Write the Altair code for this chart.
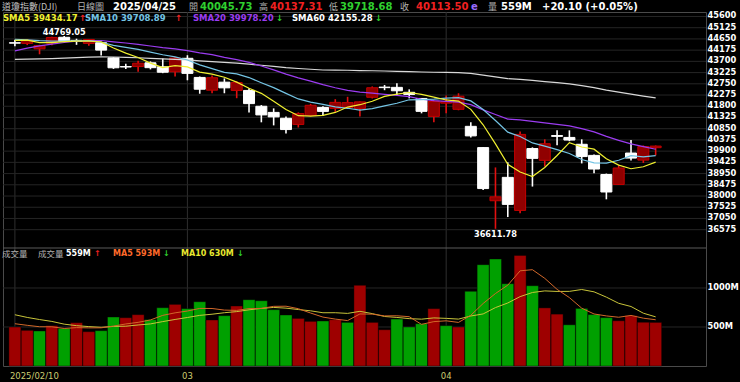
import altair as alt
import pandas as pd

# ---------------- data ----------------
# closes before the visible window (needed for the moving averages)
pre_closes = [43910.98, 43958.19, 43750.86, 43444.99, 43389.60, 43268.94, 43408.47, 43870.35,
              44296.51, 44736.57, 44860.31, 44722.06, 44910.65,
              44782.00, 44705.53, 45014.04, 44765.71, 44642.52, 44401.93, 44247.83, 44148.56,
              43914.12, 43828.06, 43717.48, 43449.90, 42326.87, 42342.24, 42840.26, 42906.95,
              43297.03, 43325.80, 42992.21, 42573.73, 42544.22,
              42392.27, 42732.13, 42706.56, 42528.36, 42635.20, 41938.45, 42297.12, 42518.28,
              43221.55, 43153.13, 43487.83, 44025.81, 44156.73, 44565.07, 44424.25, 44713.58,
              44850.35, 44713.52, 44882.13, 44544.66,
              44421.91, 44556.04, 44873.28, 44747.63, 44303.40]
pre_volumes = [800, 720, 760, 830, 750, 560, 540, 520, 590]

opens = [44490, 44460, 44230, 44470, 44720, 44590, 44460, 44490, 43850, 43480,
         43480, 43640, 43470, 43260, 43830, 43020, 42480, 42820, 42470, 42470,
         41800, 41540, 41290, 41030, 41410, 41750, 41710, 41750, 41710, 42180,
         42610, 42600, 42390, 42130, 41370, 41930, 41670, 40950, 40050, 37800,
         38790, 37390, 40010, 39510, 40560, 40480, 40190, 39720, 38910, 38490,
         39820, 39520, 40045.73]
highs = [44620, 44630, 44400, 44740, 44769.05, 44660, 44650, 44520, 43880, 43600,
         43730, 43700, 43820, 43880, 43960, 43060, 43100, 42980, 42860, 42560,
         41850, 41710, 41370, 41540, 41900, 41800, 42100, 42200, 42000, 42640,
         42700, 42770, 42515, 42150, 42050, 42260, 42350, 41120, 40060, 39210,
         39426, 40730, 40060, 40400, 40780, 40780, 40400, 39760, 38950, 39300,
         40370, 40140, 40137.31]
lows = [44340, 44390, 44000, 44380, 44500, 44400, 44360, 43950, 43380, 43380,
        43260, 43360, 43200, 43060, 42900, 42330, 42350, 42350, 42140, 41540,
        41120, 40990, 40650, 40900, 41370, 41400, 41560, 41700, 41370, 42130,
        42480, 42260, 42134, 41500, 41120, 41500, 41630, 40480, 38250, 36611.78,
        37110, 37275, 38400, 39250, 40150, 40320, 39380, 38960, 37860, 38470,
        39500, 39400, 39718.68]
closes = [44470.41, 44593.65, 44368.56, 44711.43, 44546.08, 44556.34, 44627.59, 44176.65,
          43428.02, 43461.21, 43621.16, 43433.12, 43239.50, 43840.91,
          43191.24, 42520.99, 43006.59, 42579.08, 42801.72, 41911.71, 41433.48, 41350.93,
          40813.57, 41488.19, 41841.63, 41581.31, 41964.63, 41953.32, 41985.35, 42583.32,
          42587.50, 42454.79, 42299.70, 41583.90, 42001.76,
          41989.96, 42225.32, 40545.93, 38314.86, 37965.60, 37645.59, 40608.45, 39593.66,
          40212.71, 40524.79, 40368.96, 39669.39, 39142.23, 38170.41, 39186.98, 39606.57,
          40093.40, 40113.50]
volumes = [500, 457, 449, 517, 482, 555, 440, 453, 628, 619,
           658, 594, 747, 790, 735, 824, 590, 645, 769, 850,
           837, 722, 654, 610, 572, 577, 594, 559, 1034, 559,
           465, 602, 500, 542, 735, 517, 500, 957, 1299, 1372,
           1055, 1418, 1029, 745, 665, 528, 738, 659, 620, 580,
           645, 561, 559]

date_ticks = [0, 14, 35]
date_labels = ["2025/02/10", "03", "04"]
price_ticks = [45600, 45125, 44650, 44175, 43700, 43225, 42750, 42275, 41800, 41325,
               40850, 40375, 39900, 39425, 38950, 38475, 38000, 37525, 37050, 36575]
volume_ticks = [500, 1000]

header1 = [("道瓊指數(DJI)", "name"), ("日線圖", "cjk"), ("2025/04/25", "white"),
           ("開", "cjk"), ("40045.73", "green"), ("高", "cjk"), ("40137.31", "red"),
           ("低", "cjk"), ("39718.68", "green"), ("收", "cjk"), ("40113.50", "red"),
           ("e", "purple"), ("量", "cjk"), ("559M", "white"), ("+20.10 (+0.05%)", "white")]
header2 = [("SMA5 39434.17", "sma5"), ("SMA10 39708.89", "sma10"),
           ("SMA20 39978.20", "sma20"), ("SMA60 42155.28", "white")]
header2_arrows = [("↑", "red"), ("↑", "red"), ("↓", "green"), ("↓", "green")]
header3 = [("成交量", "cjk"), ("成交量", "cjk"), ("559M", "white"), ("↑", "red"),
           ("MA5 593M", "ma5"), ("↓", "green"), ("MA10 630M", "ma10"), ("↓", "green")]

# ---------------- layout / style ----------------
W, H = 703, 354
X_DOM = [-0.56, 55.68]
P_DOM = [30804, 45790]
V_DOM = [0, 4538]
h1_x = [-1, 74, 110, 186, 197, 256, 267, 326, 337, 397, 413, 468, 485, 498, 539]
h2_x = [0, 82, 190, 289]
h2_arrow_x = [76, 172, 273, 372]
h3_x = [-1, 35, 63, 91, 110, 160, 178, 234]

COL = {"cjk": "#b0b0b0", "name": "#c0c0c0", "white": "#ffffff", "green": "#2fd02f",
       "red": "#f02020", "purple": "#9a6cff", "sma5": "#f0f030", "sma10": "#74c4e4",
       "sma20": "#9b3cf0", "ma5": "#ff6a2a", "ma10": "#e8e830"}
FONT = "DejaVu Sans"
CJK = "Noto Sans CJK TC"
GRID = "#252525"

xs = alt.Scale(domain=X_DOM, nice=False, zero=False)
ps = alt.Scale(domain=P_DOM, nice=False, zero=False)
vs = alt.Scale(domain=V_DOM, nice=False, zero=False)


def X():
    return alt.X("idx:Q", scale=xs, axis=None, title=None)


def PY(field):
    return alt.Y(field, scale=ps, axis=None, title=None)


def VY(field):
    return alt.Y(field, scale=vs, axis=None, title=None)


n_pre = len(pre_closes)
hist = pd.DataFrame({
    "idx": list(range(-n_pre, len(closes))),
    "close": pre_closes + closes,
    "volume": [None] * (n_pre - len(pre_volumes)) + pre_volumes + volumes,
})
ohlc = pd.DataFrame({"idx": list(range(len(closes))), "open": opens, "high": highs,
                     "low": lows, "close": closes})
ticks_df = pd.DataFrame({"idx": date_ticks, "label": date_labels})
pticks_df = pd.DataFrame({"v": price_ticks})
vticks_df = pd.DataFrame({"v": volume_ticks})

# ---------------- grid + axis labels (through the scales) ----------------
p_grid = alt.Chart(pticks_df).mark_rule(color=GRID, strokeWidth=1).encode(
    y=PY("v:Q"), x=alt.value(0), x2=alt.value(W))
p_labels = alt.Chart(pticks_df).mark_text(
    align="left", baseline="middle", font=FONT, fontWeight="bold", fontSize=8.3,
    color="#ffffff").encode(x=alt.value(W + 1.5), y=PY("v:Q"), text=alt.Text("v:Q", format="d"))
v_grid = alt.Chart(vticks_df).mark_rule(color=GRID, strokeWidth=1).encode(
    y=VY("v:Q"), x=alt.value(0), x2=alt.value(W))
v_labels = (alt.Chart(vticks_df).transform_calculate(lab="datum.v + 'M'")
            .mark_text(align="left", baseline="middle", font=FONT, fontWeight="bold",
                       fontSize=8.3, color="#ffffff")
            .encode(x=alt.value(W + 1.5), y=VY("v:Q"), text="lab:N"))
x_grid = alt.Chart(ticks_df).mark_rule(color="#2e2e2e", strokeWidth=1).encode(
    x=X(), y=alt.value(0), y2=alt.value(H))

# ---------------- price panel ----------------
cbase = alt.Chart(ohlc).transform_calculate(
    wick="datum.close >= datum.open ? '#e01010' : '#ffffff'",
    body="datum.close >= datum.open ? '#900000' : '#ffffff'",
    edge="datum.close >= datum.open ? '#c40000' : '#ffffff'",
)
wicks = cbase.mark_rule(strokeWidth=1.6).encode(
    x=X(), y=PY("low:Q"), y2="high:Q", color=alt.Color("wick:N", scale=None))
bodies = cbase.mark_bar(size=11, strokeWidth=1).encode(
    x=X(), y=PY("open:Q"), y2="close:Q",
    fill=alt.Fill("body:N", scale=None), stroke=alt.Stroke("edge:N", scale=None))

sort_idx = [alt.SortField("idx")]
sbase = (alt.Chart(hist)
         .transform_window(sma5="mean(close)", frame=[-4, 0], sort=sort_idx)
         .transform_window(sma10="mean(close)", frame=[-9, 0], sort=sort_idx)
         .transform_window(sma20="mean(close)", frame=[-19, 0], sort=sort_idx)
         .transform_window(sma60="mean(close)", frame=[-59, 0], sort=sort_idx)
         .transform_filter("datum.idx >= 0"))


def sma_line(field, color):
    return sbase.mark_line(color=color, strokeWidth=1.2).encode(x=X(), y=PY(f"{field}:Q"))


sma_layers = [sma_line("sma60", "#d8d8d8"), sma_line("sma20", COL["sma20"]),
              sma_line("sma10", COL["sma10"]), sma_line("sma5", COL["sma5"])]

hi_lab = (alt.Chart(ohlc).transform_joinaggregate(mx="max(high)")
          .transform_filter("datum.high == datum.mx")
          .transform_calculate(lab="format(datum.high, '.2f')")
          .mark_text(baseline="alphabetic", dy=-1, font=FONT, fontWeight="bold",
                     fontSize=8.2, color="#ffffff")
          .encode(x=X(), y=PY("high:Q"), text="lab:N"))
lo_lab = (alt.Chart(ohlc).transform_joinaggregate(mn="min(low)")
          .transform_filter("datum.low == datum.mn")
          .transform_calculate(lab="format(datum.low, '.2f')")
          .mark_text(baseline="alphabetic", dy=8.5, font=FONT, fontWeight="bold",
                     fontSize=8.2, color="#ffffff")
          .encode(x=X(), y=PY("low:Q"), text="lab:N"))

price = alt.layer(p_grid, p_labels, wicks, bodies, *sma_layers, hi_lab, lo_lab)

# ---------------- volume panel ----------------
vbase = (alt.Chart(hist)
         .transform_window(prev="lag(close)", sort=sort_idx)
         .transform_window(ma5="mean(volume)", frame=[-4, 0], sort=sort_idx)
         .transform_window(ma10="mean(volume)", frame=[-9, 0], sort=sort_idx)
         .transform_filter("datum.idx >= 0")
         .transform_calculate(vc="datum.close > datum.prev ? '#9e0000' : '#00a000'"))
vbars = vbase.mark_bar(size=12, stroke="#000000", strokeOpacity=0.4, strokeWidth=1).encode(
    x=X(), y=VY("volume:Q"), fill=alt.Fill("vc:N", scale=None))
ma10_line = vbase.mark_line(color="#c8c43a", strokeWidth=1).encode(x=X(), y=VY("ma10:Q"))
ma5_line = vbase.mark_line(color="#d2682a", strokeWidth=1).encode(x=X(), y=VY("ma5:Q"))
vol = alt.layer(v_grid, v_labels, vbars, ma10_line, ma5_line)

# ---------------- decorations / texts ----------------
divider = alt.Chart(pd.DataFrame({"a": [0]})).mark_rule(color="#5a5a5a", strokeWidth=1).encode(
    x=alt.value(0), x2=alt.value(W), y=alt.value(236))

first_tick = (alt.Chart(ticks_df).transform_filter("datum.idx == 0")
              .mark_text(align="left", dx=-5, font=FONT, fontSize=8.5, color="#cccc70")
              .encode(x=X(), y=alt.value(364), text="label:N"))
other_ticks = (alt.Chart(ticks_df).transform_filter("datum.idx != 0")
               .mark_text(align="center", font=FONT, fontSize=8.5, color="#cccc70")
               .encode(x=X(), y=alt.value(364), text="label:N"))


def txt(s, x, y, kind, size, cjk_size=9.0):
    is_cjk = kind in ("cjk", "name")
    return alt.Chart(pd.DataFrame({"t": [s]})).mark_text(
        align="left", baseline="middle", font=CJK if is_cjk else FONT,
        fontSize=(cjk_size if is_cjk else size), fontWeight=("normal" if is_cjk else "bold"),
        color=COL[kind]).encode(x=alt.value(x), y=alt.value(y), text="t:N")


texts = []
for (s, k), x in zip(header1, h1_x):
    texts.append(txt(s, x, -5.4, k, 10))
for (s, k), x in zip(header2, h2_x):
    texts.append(txt(s, x, 5.6, k, 8.5))
for (s, k), x in zip(header2_arrows, h2_arrow_x):
    texts.append(txt(s, x, 5.6, k, 8.5))
for (s, k), x in zip(header3, h3_x):
    texts.append(txt(s, x, 242.3, k, 8, cjk_size=8.5))

chart = (alt.layer(x_grid, price, vol, divider, first_tick, other_ticks, *texts)
         .resolve_scale(y="independent")
         .properties(width=W, height=H, background="#000000",
                     autosize=alt.AutoSizeParams(type="none"),
                     padding={"left": 3, "top": 12, "right": 34, "bottom": 16})
         .configure_view(stroke="#4a4a4a", strokeWidth=1))

chart.save("out.html", embed_options={"renderer": "svg", "actions": False})
